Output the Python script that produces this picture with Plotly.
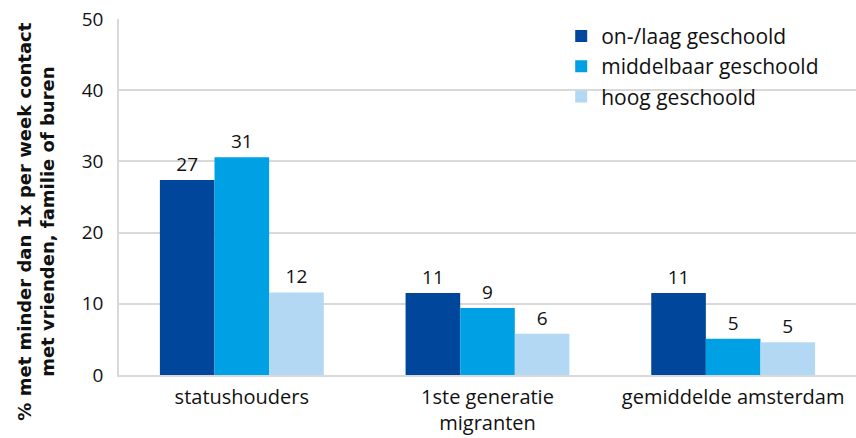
import plotly.graph_objects as go

categories = ["statushouders", "1ste generatie<br>migranten", "gemiddelde amsterdam"]
series_names = ["on-/laag geschoold", "middelbaar geschoold", "hoog geschoold"]
laag = [27.4, 11.5, 11.5]
middel = [30.6, 9.4, 5.1]
hoog = [11.6, 5.8, 4.6]
labels_laag = ["27", "11", "11"]
labels_middel = ["31", "9", "5"]
labels_hoog = ["12", "6", "5"]
yticks = [0, 10, 20, 30, 40, 50]
y_title = "<b>% met minder dan 1x per week contact<br>met vrienden, familie of buren</b>"

colors = ["#00479B", "#00A0E4", "#B3D8F3"]
font_family = "Open Sans, Lato, sans-serif"

fig = go.Figure()
for name, vals, labs, col in zip(series_names, [laag, middel, hoog],
                                 [labels_laag, labels_middel, labels_hoog], colors):
    fig.add_trace(go.Bar(
        x=categories, y=vals, name=name, marker_color=col,
        marker_line_width=0,
        text=labs, textposition="outside", cliponaxis=False,
        textfont=dict(size=19, color="#111111", family=font_family),
    ))

fig.add_annotation(
    text=y_title, textangle=-90, showarrow=False,
    xref="paper", yref="paper", x=-0.113, y=0.43,
    xanchor="center", yanchor="middle",
    font=dict(size=18, family="DejaVu Sans, sans-serif", color="#111111"),
)

fig.update_layout(
    width=856, height=438,
    margin=dict(l=119, r=0, t=19, b=63, autoexpand=False),
    paper_bgcolor="white", plot_bgcolor="white",
    barmode="group", bargap=0.333, bargroupgap=0,
    font=dict(family=font_family, size=19, color="#111111"),
    legend=dict(x=0.6, y=1.009, xanchor="left", yanchor="top",
                bgcolor="rgba(0,0,0,0)", font=dict(size=21),
                itemwidth=30),
    yaxis=dict(range=[0, 50], tickvals=yticks, showgrid=True,
               gridcolor="#D9D9D9", gridwidth=1.5, showline=True,
               linecolor="#D9D9D9", linewidth=1.5, ticks="", tickfont=dict(size=19),
               ticklabelstandoff=10, automargin=False, zeroline=False),
    xaxis=dict(showline=True, linecolor="#D9D9D9", linewidth=1.5, ticks="",
               tickfont=dict(size=20), ticklabelstandoff=3, automargin=False),
)
fig.write_html("out.html", config={"displayModeBar": False},
               post_script="document.body.style.margin='0';document.body.style.overflow='hidden';")
